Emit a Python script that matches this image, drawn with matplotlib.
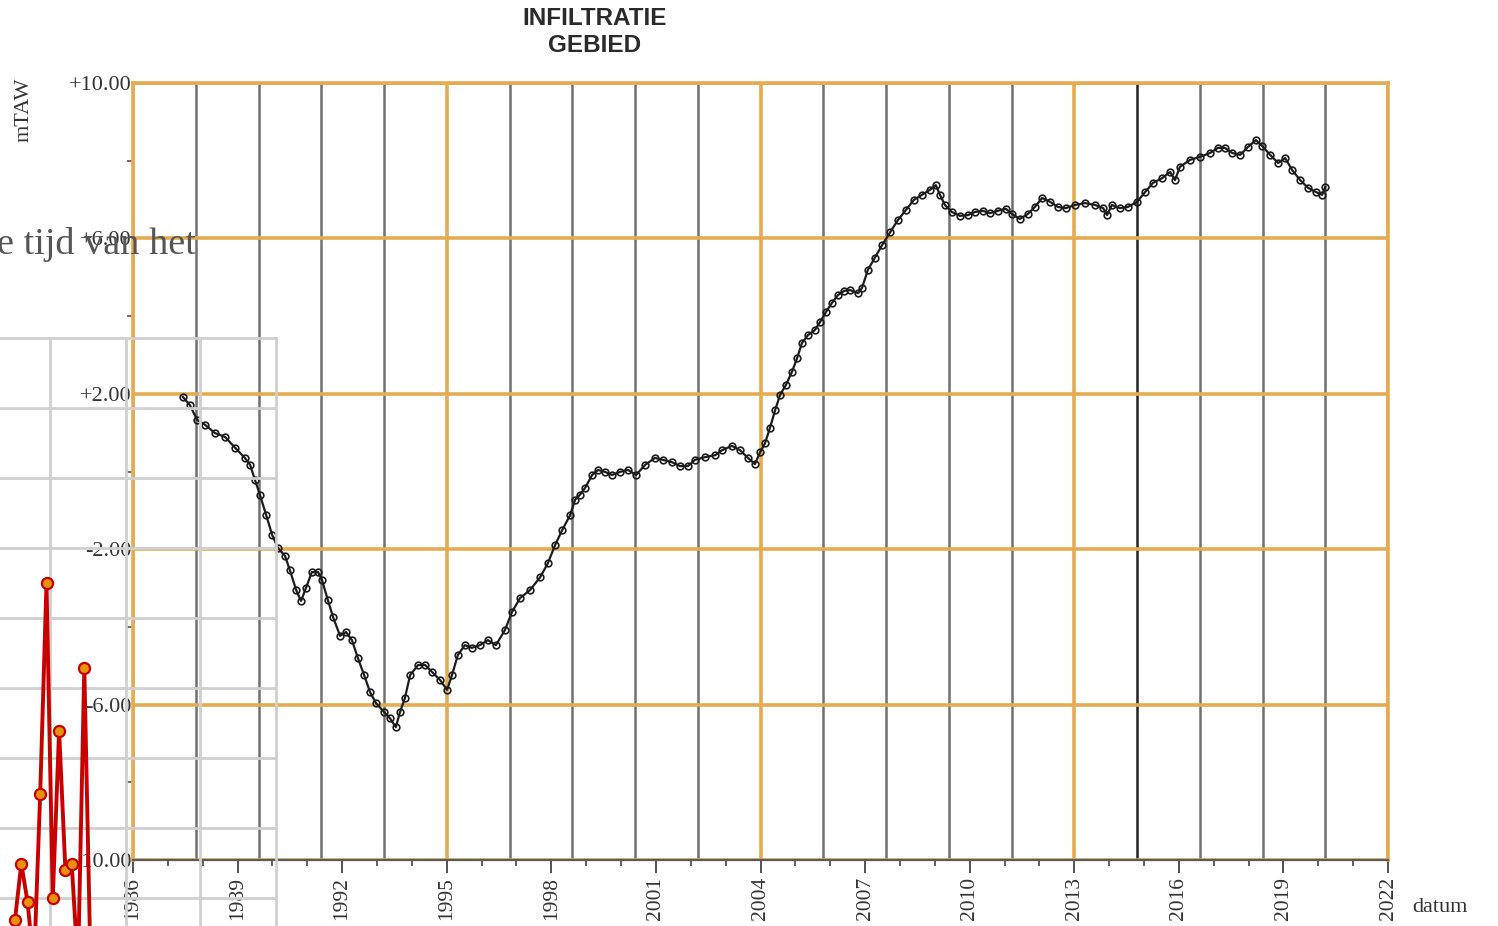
import numpy as np
import matplotlib
matplotlib.use("Agg")
import matplotlib.pyplot as plt
from matplotlib.ticker import MultipleLocator, FixedLocator

# ---- main series: groundwater level (mTAW) vs date (decimal years) ----
years = [1987.43, 1987.63, 1987.84, 1988.07, 1988.35, 1988.64, 1988.93, 1989.21, 1989.36, 1989.50,
         1989.64, 1989.82, 1989.99, 1990.16, 1990.36, 1990.50, 1990.68, 1990.82, 1990.96, 1991.13,
         1991.31, 1991.42, 1991.59, 1991.74, 1991.94, 1992.11, 1992.28, 1992.45, 1992.63, 1992.80,
         1992.97, 1993.20, 1993.37, 1993.54, 1993.66, 1993.80, 1993.95, 1994.18, 1994.38, 1994.58,
         1994.81, 1995.01, 1995.15, 1995.32, 1995.52, 1995.72, 1995.95, 1996.18, 1996.41, 1996.67,
         1996.87, 1997.10, 1997.39, 1997.68, 1997.90, 1998.11, 1998.31, 1998.54, 1998.68, 1998.82,
         1998.97, 1999.17, 1999.34, 1999.54, 1999.74, 1999.97, 2000.20, 2000.43, 2000.69, 2000.97,
         2001.20, 2001.46, 2001.69, 2001.92, 2002.12, 2002.41, 2002.70, 2002.90, 2003.18, 2003.41,
         2003.64, 2003.84, 2003.99, 2004.13, 2004.27, 2004.42, 2004.56, 2004.73, 2004.90, 2005.05,
         2005.19, 2005.36, 2005.56, 2005.71, 2005.88, 2006.05, 2006.22, 2006.40, 2006.57, 2006.80,
         2006.91, 2007.08, 2007.28, 2007.49, 2007.72, 2007.94, 2008.17, 2008.40, 2008.63, 2008.86,
         2009.03, 2009.15, 2009.29, 2009.49, 2009.72, 2009.95, 2010.15, 2010.38, 2010.58, 2010.81,
         2011.04, 2011.21, 2011.44, 2011.67, 2011.87, 2012.08, 2012.31, 2012.53, 2012.76, 2013.02,
         2013.31, 2013.60, 2013.83, 2013.94, 2014.08, 2014.31, 2014.54, 2014.80, 2015.03, 2015.26,
         2015.52, 2015.75, 2015.89, 2016.03, 2016.32, 2016.61, 2016.90, 2017.12, 2017.32, 2017.53,
         2017.76, 2017.98, 2018.21, 2018.39, 2018.62, 2018.85, 2019.05, 2019.25, 2019.48, 2019.71,
         2019.94, 2020.11, 2020.20]
levels = [1.92, 1.71, 1.33, 1.20, 0.99, 0.89, 0.61, 0.35, 0.17, -0.22,
          -0.60, -1.12, -1.63, -1.97, -2.17, -2.54, -3.05, -3.33, -3.00, -2.59,
          -2.59, -2.79, -3.31, -3.75, -4.23, -4.13, -4.34, -4.80, -5.24, -5.68,
          -5.96, -6.19, -6.35, -6.58, -6.19, -5.83, -5.24, -4.98, -4.98, -5.16,
          -5.37, -5.62, -5.24, -4.72, -4.47, -4.54, -4.47, -4.34, -4.47, -4.08,
          -3.62, -3.26, -3.05, -2.72, -2.36, -1.89, -1.51, -1.12, -0.73, -0.60,
          -0.42, -0.09, 0.04, -0.01, -0.09, -0.01, 0.04, -0.09, 0.17, 0.35,
          0.30, 0.24, 0.14, 0.14, 0.30, 0.37, 0.42, 0.55, 0.66, 0.55,
          0.35, 0.19, 0.50, 0.73, 1.12, 1.58, 1.97, 2.23, 2.56, 2.92,
          3.31, 3.51, 3.64, 3.85, 4.11, 4.34, 4.54, 4.65, 4.67, 4.59,
          4.72, 5.19, 5.50, 5.83, 6.16, 6.47, 6.73, 6.99, 7.12, 7.25,
          7.37, 7.12, 6.86, 6.68, 6.58, 6.60, 6.68, 6.71, 6.65, 6.71,
          6.76, 6.63, 6.50, 6.63, 6.81, 7.04, 6.94, 6.81, 6.78, 6.86,
          6.91, 6.86, 6.78, 6.60, 6.86, 6.78, 6.81, 6.94, 7.19, 7.43,
          7.55, 7.71, 7.50, 7.84, 8.02, 8.10, 8.20, 8.33, 8.33, 8.20,
          8.15, 8.35, 8.53, 8.38, 8.15, 7.94, 8.07, 7.76, 7.50, 7.30,
          7.19, 7.12, 7.32]

x_tick_years = list(range(1986, 2023, 3))
x_tick_labels = [str(y) for y in x_tick_years]
y_tick_values = [10, 6, 2, -2, -6, -10]
y_tick_labels = ["+10.00", "+6.00", "+2.00", "-2.00", "-6.00", "-10.00"]

# ---- overlapping fragment (red line with orange dots) ----
frag_values = [-3.1, 4.9, -0.6, -10, 14.9, 45.0, 0.0, 23.9, 4.0, 4.9, -10, 32.9, -10]

W, H = 1498, 926
fig = plt.figure(figsize=(W / 100, H / 100), dpi=100)
fig.patch.set_facecolor("white")

ax = fig.add_axes([133 / W, (H - 860) / H, 1255 / W, 777 / H])
ax.set_xlim(1986, 2022)
ax.set_ylim(-10, 10)

ORANGE = "#e6ab50"
GRAY = "#707070"

# vertical grid every 1.8 years, orange every 9 years
for k in range(0, 21):
    xv = 1986 + 1.8 * k
    if k % 5 == 0:
        ax.axvline(xv, color=ORANGE, lw=2.6, zorder=1)
    else:
        ax.axvline(xv, color=GRAY if k != 16 else "#222222", lw=1.8, zorder=1)
for yv in y_tick_values:
    ax.axhline(yv, color=ORANGE, lw=2.6, zorder=1)

ax.plot(years, levels, color="#1c1c1c", lw=1.6, marker="o", ms=4.8,
        mfc="none", mec="#1c1c1c", mew=1.2, zorder=3)

for s in ["top", "right", "left"]:
    ax.spines[s].set_color(ORANGE)
    ax.spines[s].set_linewidth(2.6)
ax.spines["bottom"].set_color("#5a5a5a")
ax.spines["bottom"].set_linewidth(1.6)

ax.xaxis.set_major_locator(FixedLocator(x_tick_years))
ax.set_xticklabels(x_tick_labels, rotation=90, family="Liberation Serif",
                   fontsize=15.5, color="#333333")
ax.xaxis.set_minor_locator(MultipleLocator(1))
ax.tick_params(axis="x", which="major", length=9, width=1.3, color="#444444", pad=3)
ax.tick_params(axis="x", which="minor", length=4, width=1.2, color="#444444")

ax.yaxis.set_major_locator(FixedLocator(y_tick_values))
ax.set_yticklabels(y_tick_labels, family="Liberation Serif", fontsize=16, color="#333333")
ax.yaxis.set_minor_locator(FixedLocator([8, 4, 0, -4, -8]))
ax.tick_params(axis="y", which="major", length=0, pad=1)
ax.tick_params(axis="y", which="minor", length=4, width=1.2, color="#555555")

fig.text(24 / W, 1 - 110 / H, "mTAW", rotation=90, ha="center", va="center",
         family="Liberation Serif", fontsize=16, color="#333333")
fig.text(1440 / W, 1 - 908 / H, "datum", ha="center", va="center",
         family="Liberation Serif", fontsize=16, color="#333333")
fig.text(595 / W, 1 - 32 / H, "INFILTRATIE\nGEBIED", ha="center", va="center",
         family="Liberation Sans", fontweight="bold", fontsize=17.5, color="#2a2a2a",
         linespacing=1.25)

# ---- overlay fragment axes ----
ox = fig.add_axes([0, 0, 276 / W, (H - 338) / H], zorder=5)
ox.patch.set_alpha(0)
px0, step = 15.0, 6.3
ox.set_xlim(-px0 / step, (276 - px0) / step)
ox.set_ylim(-4, 80)
LG = "#cfcfcf"
for gx in [50, 126, 200]:
    ox.axvline((gx - px0) / step, color=LG, lw=2, zorder=1)
for gy in range(0, 80, 10):
    ox.axhline(gy, color=LG, lw=2, zorder=1)
for s in ["left", "bottom"]:
    ox.spines[s].set_visible(False)
for s in ["top", "right"]:
    ox.spines[s].set_color(LG)
    ox.spines[s].set_linewidth(2)
ox.set_xticks([])
ox.set_yticks([])
ox.plot(np.arange(len(frag_values)), frag_values, color="#c80000", lw=2.8,
        marker="o", ms=8, mfc="#e8920c", mec="#c80000", mew=1.6, zorder=3,
        clip_on=True)

fig.text(-3 / W, 1 - 254 / H, "e tijd van het", ha="left", va="baseline",
         family="Liberation Serif", fontsize=27.5, color="#555555", zorder=10)

fig.savefig("out.png", dpi=100, facecolor="white")
